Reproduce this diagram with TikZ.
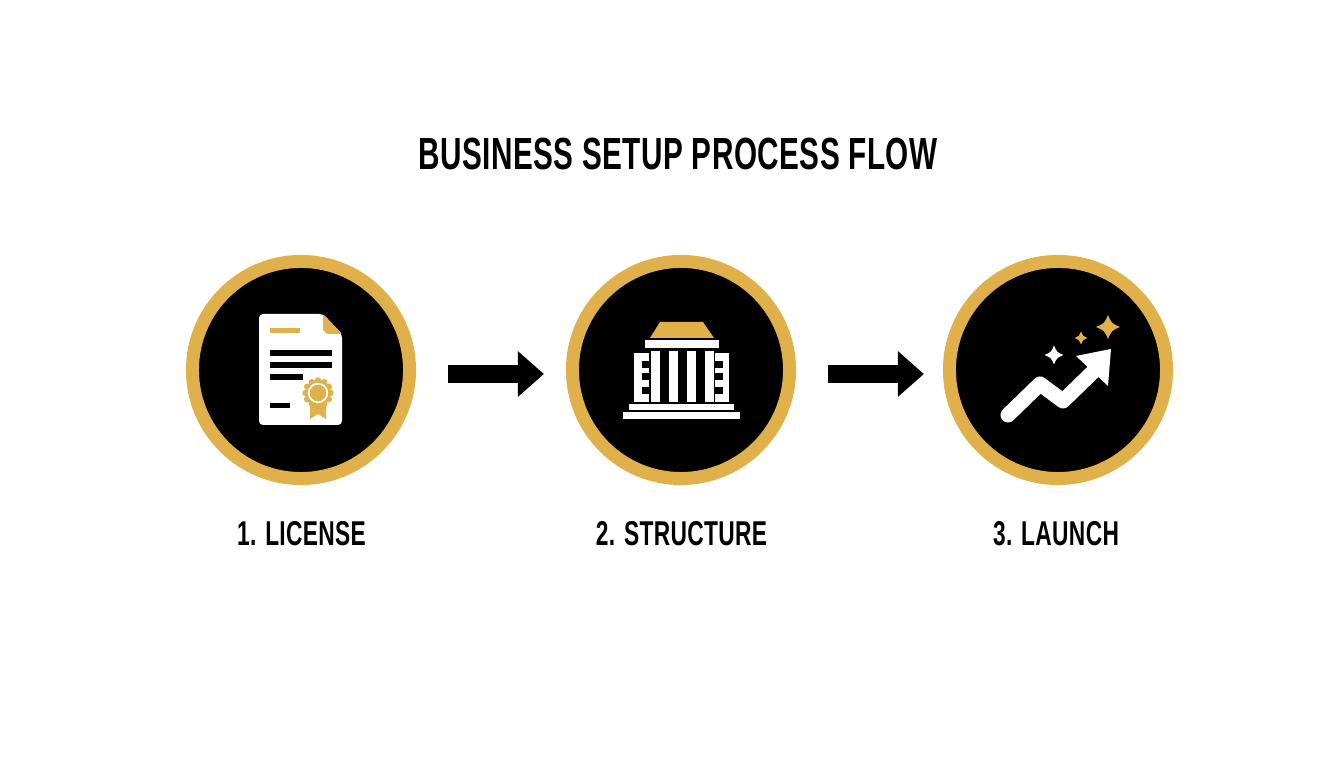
\documentclass[tikz,border=0pt]{standalone}
\usepackage{fontspec}
\setmainfont[FakeStretch=0.66, LetterSpace=1]{Liberation Sans}
\usepackage{tikz}
\usetikzlibrary{arrows.meta}

\definecolor{gold}{HTML}{E0B04B}

\newcommand{\sparkle}[3]{
\fill[#1, shift={(#2)}, scale=#3] (1,0) .. controls (0.3,0.3) .. (0,1) .. controls (-0.3,0.3) .. (-1,0) .. controls (-0.3,-0.3) .. (0,-1) .. controls (0.3,-0.3) .. (1,0) -- cycle;
}

\tikzset{
	badge/.style={circle, draw=gold, fill=black, line width=0.13cm, minimum size=2.17cm, inner sep=0pt},
	flowarrow/.style={line width=0.18cm, -{Triangle[length=0.26cm, width=0.44cm]}},
	steplabel/.style={font=\bfseries\fontsize{9.8pt}{12pt}\selectfont, text=black},
	titlelabel/.style={font=\bfseries\fontsize{12.8pt}{15pt}\selectfont, text=black}
}

\begin{document}
\begin{tikzpicture}[x=0.01cm, y=-0.01cm]
\useasboundingbox (0,0) rectangle (1344,768);

\node[titlelabel] (title) at (678,154) {BUSINESS SETUP PROCESS FLOW};

\node[badge] (license) at (301,370) {};
\node[badge] (structure) at (681,370) {};
\node[badge] (launch) at (1058,370) {};

\node[steplabel] (licenselabel) at (301.5,534) {1. LICENSE};
\node[steplabel] (structurelabel) at (681.5,534) {2. STRUCTURE};
\node[steplabel] (launchlabel) at (1056,534) {3. LAUNCH};

\draw[flowarrow, shorten <=0.32cm, shorten >=0.22cm] ([yshift=-0.04cm]license.east) -- ([yshift=-0.04cm]structure.west);
\draw[flowarrow, shorten <=0.32cm, shorten >=0.19cm] ([yshift=-0.04cm]structure.east) -- ([yshift=-0.04cm]launch.west);

\fill[white, rounded corners=0.04cm] (259,314) -- (323,314) -- (342,334) -- (342,425) -- (259,425) -- cycle;
\fill[gold, rounded corners=0.01cm] (323,314) -- (342,334) -- (327,334) -- (323,330) -- cycle;
\fill[gold] (270,328) rectangle (300,333);
\fill[black] (270,350) rectangle (332,356);
\fill[black] (270,362) rectangle (332,368);
\fill[black] (270,374) rectangle (303,380);
\fill[black] (270,403) rectangle (290,408);
\fill[gold] (310,400) -- (326,400) -- (326,419) -- (318,414) -- (310,419) -- cycle;
\foreach \a in {0,30,...,330}
	\fill[gold] (318,393) ++(\a:12.5) circle (3.2);
\fill[gold] (318,393) circle (13);
\draw[white, line width=0.017cm] (318,393) circle (9.3);

\fill[gold] (660,322) -- (703,322) -- (714,338) -- (650,338) -- cycle;
\fill[white] (645,340) rectangle (719,348);
\foreach \x in {651,669,687,705}
	\fill[white] (\x,351) rectangle (\x+8.5,402);
\fill[white] (634,353) rectangle (649,402);
\fill[white] (715,353) rectangle (729,402);
\foreach \y in {361,373,387}
	\fill[black] (642,\y) rectangle (649,\y+7.5);
\foreach \y in {361,373,387}
	\fill[black] (715,\y) rectangle (723,\y+7.5);
\fill[white] (629,404) rectangle (734,410);
\fill[white] (623,412) rectangle (740,419);

\draw[white, line width=0.15cm, line cap=round, line join=round] (1008,415) -- (1040,384) -- (1063,401) -- (1095,370);
\fill[white] (1076,356) -- (1111,349) -- (1108,386) -- cycle;
\sparkle{gold}{1108,327}{12}
\sparkle{gold}{1081,338}{6.5}
\sparkle{white}{1054,355}{9.5}
\end{tikzpicture}
\end{document}
